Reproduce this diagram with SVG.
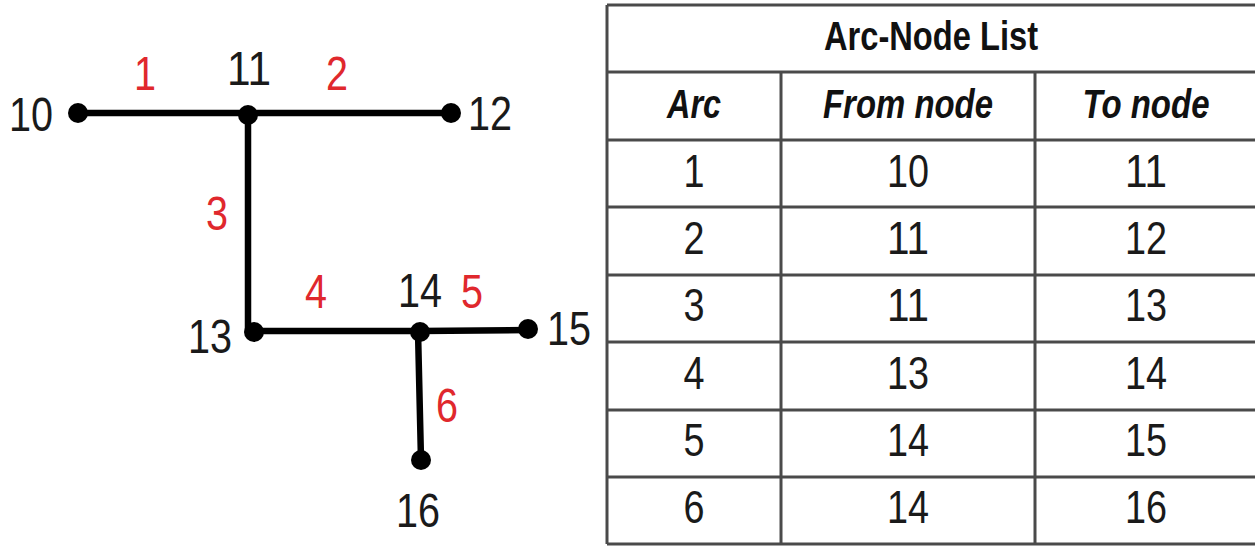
<svg xmlns="http://www.w3.org/2000/svg" width="1255" height="546" viewBox="0 0 1255 546">
<style>
.lbl{font-family:"Liberation Sans",Arial,sans-serif;font-size:48px;fill:#1a1a1a;text-anchor:middle}
.arc{font-family:"Liberation Sans",Arial,sans-serif;font-size:48px;fill:#e0282d;text-anchor:middle}
.edge{stroke:#000;stroke-width:6.5;stroke-linecap:round;fill:none}
.dot{fill:#000}
.grid{stroke:#4a4a4a;stroke-width:3;fill:none}
.title{font-family:"Liberation Sans",Arial,sans-serif;font-size:40px;font-weight:bold;fill:#111;text-anchor:middle}
.head{font-family:"Liberation Sans",Arial,sans-serif;font-size:40px;font-weight:bold;font-style:italic;fill:#111;text-anchor:middle}
.cell{font-family:"Liberation Sans",Arial,sans-serif;font-size:47px;fill:#1a1a1a;text-anchor:middle}
</style>
<rect width="1255" height="546" fill="#fff"/>
<g id="connectors">
<line class="edge" x1="78" y1="113" x2="248" y2="113"/>
<line class="edge" x1="248" y1="113" x2="451" y2="113"/>
<line class="edge" x1="248" y1="113" x2="248" y2="331"/>
<line class="edge" x1="253" y1="331" x2="420" y2="331"/>
<line class="edge" x1="420" y1="331" x2="528" y2="330"/>
<line class="edge" x1="418" y1="331" x2="421" y2="460"/>
<text class="arc" x="145" y="90" textLength="22" lengthAdjust="spacingAndGlyphs">1</text>
<text class="arc" x="337" y="90" textLength="22" lengthAdjust="spacingAndGlyphs">2</text>
<text class="arc" x="217" y="230" textLength="22" lengthAdjust="spacingAndGlyphs">3</text>
<text class="arc" x="316" y="308" textLength="22" lengthAdjust="spacingAndGlyphs">4</text>
<text class="arc" x="472" y="308" textLength="22" lengthAdjust="spacingAndGlyphs">5</text>
<text class="arc" x="447" y="422" textLength="22" lengthAdjust="spacingAndGlyphs">6</text>
</g>
<g id="n10"><circle class="dot" cx="78" cy="113" r="10"/><text class="lbl" x="31" y="131" textLength="44" lengthAdjust="spacingAndGlyphs">10</text></g>
<g id="n11"><circle class="dot" cx="248" cy="115" r="10"/><text class="lbl" x="249" y="85" textLength="44" lengthAdjust="spacingAndGlyphs">11</text></g>
<g id="n12"><circle class="dot" cx="451" cy="113" r="10"/><text class="lbl" x="490" y="130" textLength="44" lengthAdjust="spacingAndGlyphs">12</text></g>
<g id="n13"><circle class="dot" cx="254" cy="332" r="10"/><text class="lbl" x="210" y="353" textLength="44" lengthAdjust="spacingAndGlyphs">13</text></g>
<g id="n14"><circle class="dot" cx="420" cy="332" r="10"/><text class="lbl" x="420" y="307" textLength="44" lengthAdjust="spacingAndGlyphs">14</text></g>
<g id="n15"><circle class="dot" cx="528" cy="329" r="10"/><text class="lbl" x="569" y="345" textLength="44" lengthAdjust="spacingAndGlyphs">15</text></g>
<g id="n16"><circle class="dot" cx="421" cy="460" r="10"/><text class="lbl" x="418" y="527" textLength="44" lengthAdjust="spacingAndGlyphs">16</text></g>
<g id="table">
<path class="grid" d="M607 5H1255M607 72H1255M607 140H1255M607 207H1255M607 275H1255M607 342H1255M607 410H1255M607 477H1255M607 544H1255M607 5V544M781 72V544M1035 72V544"/>
<text class="title" x="931" y="50" textLength="214" lengthAdjust="spacingAndGlyphs">Arc-Node List</text>
<text class="head" x="694" y="118" textLength="54" lengthAdjust="spacingAndGlyphs">Arc</text>
<text class="head" x="908" y="118" textLength="170" lengthAdjust="spacingAndGlyphs">From node</text>
<text class="head" x="1146" y="118" textLength="127" lengthAdjust="spacingAndGlyphs">To node</text>
<g>
<text class="cell" x="694" y="187" textLength="21" lengthAdjust="spacingAndGlyphs">1</text>
<text class="cell" x="908" y="187" textLength="42" lengthAdjust="spacingAndGlyphs">10</text>
<text class="cell" x="1146" y="187" textLength="42" lengthAdjust="spacingAndGlyphs">11</text>
<text class="cell" x="694" y="254" textLength="21" lengthAdjust="spacingAndGlyphs">2</text>
<text class="cell" x="908" y="254" textLength="42" lengthAdjust="spacingAndGlyphs">11</text>
<text class="cell" x="1146" y="254" textLength="42" lengthAdjust="spacingAndGlyphs">12</text>
<text class="cell" x="694" y="321" textLength="21" lengthAdjust="spacingAndGlyphs">3</text>
<text class="cell" x="908" y="321" textLength="42" lengthAdjust="spacingAndGlyphs">11</text>
<text class="cell" x="1146" y="321" textLength="42" lengthAdjust="spacingAndGlyphs">13</text>
<text class="cell" x="694" y="389" textLength="21" lengthAdjust="spacingAndGlyphs">4</text>
<text class="cell" x="908" y="389" textLength="42" lengthAdjust="spacingAndGlyphs">13</text>
<text class="cell" x="1146" y="389" textLength="42" lengthAdjust="spacingAndGlyphs">14</text>
<text class="cell" x="694" y="456" textLength="21" lengthAdjust="spacingAndGlyphs">5</text>
<text class="cell" x="908" y="456" textLength="42" lengthAdjust="spacingAndGlyphs">14</text>
<text class="cell" x="1146" y="456" textLength="42" lengthAdjust="spacingAndGlyphs">15</text>
<text class="cell" x="694" y="523" textLength="21" lengthAdjust="spacingAndGlyphs">6</text>
<text class="cell" x="908" y="523" textLength="42" lengthAdjust="spacingAndGlyphs">14</text>
<text class="cell" x="1146" y="523" textLength="42" lengthAdjust="spacingAndGlyphs">16</text>
</g>
</g>
</svg>
